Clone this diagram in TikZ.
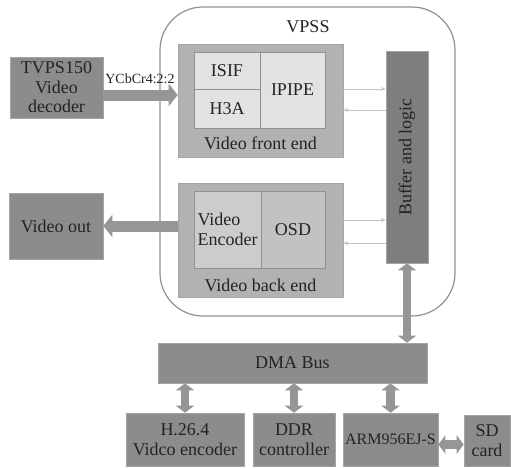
\documentclass[tikz,border=0pt]{standalone}
\usepackage{fontspec}
\setmainfont{Liberation Serif}
\newfontfamily\diagfont{Liberation Serif}
\usetikzlibrary{positioning, arrows.meta, calc}
\definecolor{tdark}{RGB}{140,140,140}
\definecolor{tbuf}{RGB}{126,126,126}
\definecolor{tmid}{RGB}{178,178,178}
\definecolor{tlight}{RGB}{226,226,226}
\definecolor{tback}{RGB}{204,204,204}
\definecolor{tarrow}{RGB}{150,150,150}
\definecolor{tthin}{RGB}{196,196,196}
\definecolor{tframe}{RGB}{145,145,145}
\definecolor{tedge}{RGB}{165,165,165}
\definecolor{ttext}{RGB}{35,35,35}

\begin{document}
\begin{tikzpicture}[x=1pt, y=1pt,
        every node/.style={font=\diagfont\fontsize{18}{19.5}\selectfont, text=ttext},
        block/.style={draw=tedge, fill=tdark, line width=0.6pt, align=center, inner sep=1pt},
        cell/.style={draw=tframe, line width=0.9pt, align=center, inner sep=1pt},
        frame/.style={draw=tframe, line width=1.2pt, rounded corners=43pt},
        fatarr/.style={-{Triangle[length=9pt, width=22pt]}, line width=11pt, draw=tarrow},
        dblarr/.style={{Triangle[length=7pt, width=18pt]}-{Triangle[length=7pt, width=18pt]}, line width=8.5pt, draw=tarrow},
        thinarr/.style={-{Stealth[length=5pt, width=4pt]}, line width=0.7pt, draw=tthin}]
      \useasboundingbox (0,0) rectangle (511,-467);

      % VPSS frame
      \node[frame, minimum width=295, minimum height=309] (vpss) at (307.5,-161.5) {};
      \node (vpsslabel) at (308,-27) {VPSS};

      % video front end
      \node[block, fill=tmid, minimum width=165, minimum height=113] (fe) at (260.5,-100.5) {};
      \node[cell, fill=tlight, minimum width=66, minimum height=37] (isif) at (227,-70.5) {ISIF};
      \node[cell, fill=tlight, minimum width=66, minimum height=39] (h3a) at (227,-108.5) {H3A};
      \node[cell, fill=tlight, minimum width=65, minimum height=76] (ipipe) at (292.5,-90) {IPIPE};
      \node (felabel) at (260.5,-143) {Video front end};

      % video back end
      \node[block, fill=tmid, minimum width=165, minimum height=114] (be) at (260.5,-240) {};
      \node[cell, fill=tback, align=left, minimum width=67, minimum height=77] (venc) at (227.5,-229.5) {Video\\Encoder};
      \node[cell, fill=tback!95!black, minimum width=64, minimum height=77] (osd) at (293,-229.5) {OSD};
      \node (belabel) at (260.5,-285) {Video back end};

      \node[block, fill=tbuf, minimum width=42, minimum height=212] (buffer) at (407,-157) {\rotatebox{90}{Buffer and logic}};

      % outside blocks
      \node[block, minimum width=93, minimum height=61] (tvps) at (56.5,-87.5) {TVPS150\\Video\\decoder};
      \node[block, minimum width=94, minimum height=66] (vout) at (56,-226) {Video out};
      \node[block, minimum width=269, minimum height=40] (dma) at (292.5,-363) {DMA Bus};
      \node[block, minimum width=118, minimum height=53] (h264) at (185,-439.5) {H.26.4\\Vidco encoder};
      \node[block, minimum width=82, minimum height=53] (ddr) at (294,-439.5) {DDR\\controller};
      \node[block, minimum width=95, minimum height=53, font=\diagfont\fontsize{16}{18}\selectfont] (arm) at (390.5,-439.5) {ARM956EJ-S};
      \node[block, minimum width=46, minimum height=51] (sd) at (487,-440.5) {SD\\card};
      \node[font=\diagfont\fontsize{14}{16}\selectfont] (ycbcr) at (140,-79) {YCbCr4:2:2};

      % connectors
      \draw[fatarr] ([yshift=-7.5pt]tvps.east) -- ([yshift=-7.5pt]tvps.east -| fe.west);
      \draw[fatarr] (be.west |- vout.east) -- (vout.east);
      \draw[thinarr] (fe.east |- 0,-89) -- (buffer.west |- 0,-89);
      \draw[thinarr] (buffer.west |- 0,-110) -- (fe.east |- 0,-110);
      \draw[thinarr] (be.east |- 0,-220) -- (buffer.west |- 0,-220);
      \draw[thinarr] (buffer.west |- 0,-243) -- (be.east |- 0,-243);
      \draw[dblarr] (buffer.south) -- (buffer.south |- dma.north);
      \draw[dblarr] (h264.north |- dma.south) -- (h264.north);
      \draw[dblarr] (ddr.north |- dma.south) -- (ddr.north);
      \draw[dblarr] (arm.north |- dma.south) -- (arm.north);
      \draw[dblarr] ([yshift=-5pt]arm.east) -- ([yshift=-5pt]arm.east -| sd.west);
    \end{tikzpicture}
\end{document}
